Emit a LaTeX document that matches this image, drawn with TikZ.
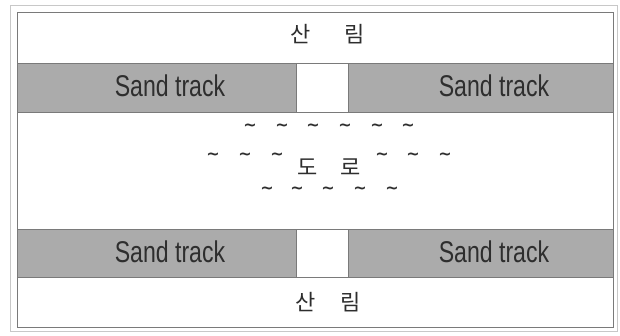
\documentclass[tikz,border=0pt]{standalone}
\usepackage{fontspec}
\usepackage{graphicx}
\setmainfont{Liberation Sans}
\newfontfamily\kr{Noto Sans CJK KR}
\newfontfamily\sym{DejaVu Sans}
\definecolor{bandgray}{HTML}{ABABAB}
\definecolor{edgegray}{HTML}{7A7A7A}
\definecolor{framegray}{HTML}{C8C8C8}
\definecolor{inkdark}{HTML}{2E2E2E}
\tikzset{
  area/.style={draw=edgegray, line width=0.8pt, fill=white, anchor=north west, inner sep=0pt, outer sep=0pt},
  band/.style={area, fill=bandgray},
  trackl/.style={text=inkdark, font=\fontsize{30}{30}\selectfont, inner sep=0pt},
  krl/.style={text=inkdark, font=\kr\fontsize{22}{22}\selectfont, inner sep=0pt},
  wave/.style={text=inkdark, font=\sym\bfseries\fontsize{16}{16}\selectfont, inner sep=0pt}
}
\begin{document}
\begin{tikzpicture}[x=1pt,y=-1pt]
\useasboundingbox (0,0) rectangle (620,335);
\draw[framegray, line width=0.8pt] (10,5) rectangle (617,331);
% background areas
\node[area, minimum width=596pt, minimum height=315pt] (frame) at (17,12) {};
\node[area, minimum width=596pt, minimum height=51pt] (topbox) at (17,12) {};
\node[band, minimum width=279pt, minimum height=49pt] (tl) at (17,63) {};
\node[area, minimum width=52pt, minimum height=49pt] (tg) at (296,63) {};
\node[band, minimum width=265pt, minimum height=49pt] (tr) at (348,63) {};
\node[band, minimum width=279pt, minimum height=48pt] (bl) at (17,229) {};
\node[area, minimum width=52pt, minimum height=48pt] (bg) at (296,229) {};
\node[band, minimum width=265pt, minimum height=48pt] (br) at (348,229) {};
\node[area, minimum width=596pt, minimum height=50pt] (botbox) at (17,277) {};
% texts
\node[krl] (sanlim1) at (327.5,34) {산\hspace{33pt}림};
\node[krl] (sanlim2) at (328,302.5) {산\hspace{25pt}림};
\node[trackl] (st1) at (170,86) {\scalebox{0.77}[1]{Sand track}};
\node[trackl] (st2) at (494,86) {\scalebox{0.77}[1]{Sand track}};
\node[trackl] (st3) at (170,252) {\scalebox{0.77}[1]{Sand track}};
\node[trackl] (st4) at (494,252) {\scalebox{0.77}[1]{Sand track}};
\node[krl] (doro) at (329,167) {도\hspace{23pt}로};
% waves
\foreach \x [count=\i] in {250,282,313,345,377,408}
  \node[wave] (wa\i) at (\x,127) {\textasciitilde};
\foreach \x [count=\i] in {213,245,277,382,413,445}
  \node[wave] (wb\i) at (\x,156) {\textasciitilde};
\foreach \x [count=\i] in {267,297,328,360,392}
  \node[wave] (wc\i) at (\x,190) {\textasciitilde};
\end{tikzpicture}
\end{document}
